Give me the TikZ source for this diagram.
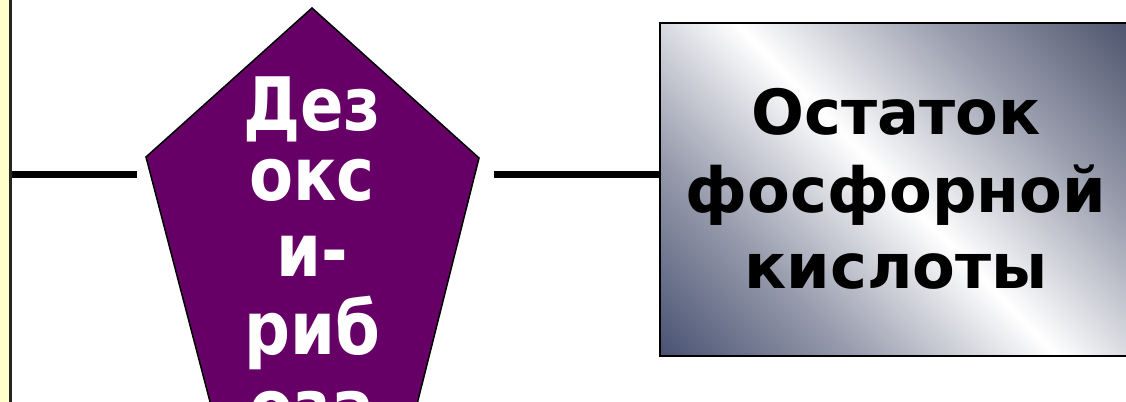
\documentclass[tikz,border=0pt]{standalone}
\usepackage{fontspec}
\setmainfont{DejaVu Sans}
% narrower bold face for the sugar label
\newfontfamily\sugarfont{DejaVu Sans}[FakeStretch=0.87]
\definecolor{strip}{HTML}{FFFFCC}
\definecolor{plum}{HTML}{660066}
\definecolor{metalDark}{HTML}{465070}
\definecolor{metalMid}{HTML}{989CAD}
\definecolor{metalDarkB}{HTML}{495069}
\definecolor{metalMidB}{HTML}{9A9EAE}
% brushed-metal fill: dark corners, white streak across the middle
\pgfdeclarehorizontalshading{metal}{100bp}{%
  color(0bp)=(metalDark); color(14bp)=(metalDark); color(32bp)=(metalMid);
  color(50bp)=(white); color(68bp)=(metalMidB); color(86bp)=(metalDarkB);
  color(100bp)=(metalDarkB)}
\begin{document}
\begin{tikzpicture}[x=1bp,y=1bp,
  connector/.style={line width=7.5bp, black},
  ptext/.style={text=white, font=\sugarfont\fontsize{74}{74}\selectfont\bfseries, anchor=base, inner sep=0pt},
  atext/.style={text=black, font=\fontsize{62.5}{62.5}\selectfont\bfseries, anchor=base, inner sep=0pt},
  acidbox/.style={draw=black, line width=2.2bp, shading=metal, shading angle=44,
    minimum width=473bp, minimum height=333bp, inner sep=0pt},
  sugar/.style={fill=plum, draw=black, line width=1.5bp, line join=miter}]
\useasboundingbox (0,0) rectangle (1126,401);
\clip (0,0) rectangle (1126,401);
% margin strip on the left
\fill[strip] (0,-5) rectangle (10,406);
\draw[black!85, line width=2.4bp] (10.6,-5) -- (10.6,406);
\coordinate (stripedge) at (11.8,226.5);
\coordinate (pleft) at (137,226.5);
\coordinate (pright) at (494,226.5);
% deoxyribose pentagon
\draw[sugar] (312,393) -- (479,243) -- (408,-39) -- (220,-39) -- (146,244) -- cycle;
\node[ptext] (d1) at (312,271) {Дез};
\node[ptext] (d2) at (312,201) {окс};
\node[ptext] (d3) at (312,125) {и-};
\node[ptext] (d4) at (312,47) {риб};
\node[ptext] (d5) at (312,-31) {оза};
% phosphate box
\node[acidbox] (acid) at (896.5,211.5) {};
\node[atext] (a1) at (896,267) {Остаток};
\node[atext] (a2) at (896,189) {фосфорной};
\node[atext] (a3) at (896,113) {кислоты};
% bonds
\draw[connector] (stripedge) -- (pleft);
\draw[connector] (pright) -- (pright -| acid.west);
\end{tikzpicture}
\end{document}
